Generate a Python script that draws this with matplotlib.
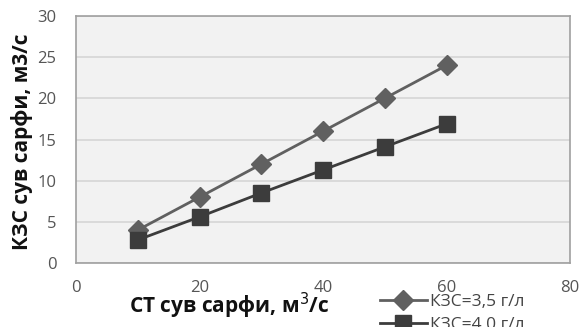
import matplotlib
matplotlib.use("Agg")
import matplotlib.pyplot as plt
import matplotlib.transforms as mtransforms

plt.rcParams['font.family'] = ['Open Sans', 'DejaVu Sans']

x_vals = [10, 20, 30, 40, 50, 60]
s1_vals = [4.0, 8.0, 12.0, 16.0, 20.0, 24.0]
s2_vals = [2.8, 5.6, 8.5, 11.3, 14.1, 16.9]
s1_name = "КЗС=3,5 г/л"
s2_name = "КЗС=4,0 г/л"
x_ticks = [0, 20, 40, 60, 80]
y_ticks = [0, 5, 10, 15, 20, 25, 30]
x_label = "СТ сув сарфи, м$^3$/с"
y_label = "КЗС сув сарфи, м3/с"

W, H = 580, 327
fig = plt.figure(figsize=(W / 100, H / 100), dpi=100)
fig.patch.set_facecolor('white')
# plot box in pixels: left 76, right 570, top 16, bottom 263
ax = fig.add_axes([76 / W, 1 - 263 / H, (570 - 76) / W, (263 - 16) / H])
ax.set_facecolor('#f2f2f2')
ax.set_xlim(0, 80)
ax.set_ylim(0, 30)
ax.set_yticks(y_ticks)
ax.set_yticklabels([str(v) for v in y_ticks], fontsize=12, color='#555555')
ax.tick_params(axis='y', length=0, pad=14)
ax.set_xticks([])
ax.grid(axis='y', color='#d6d6d6', linewidth=1.2)
ax.set_axisbelow(True)
for sp in ax.spines.values():
    sp.set_color('#a0a0a0')
    sp.set_linewidth(1.2)

trans = mtransforms.blended_transform_factory(ax.transData, ax.transAxes)
for t in x_ticks:
    ax.text(t, -0.1, str(t), transform=trans, ha='center', va='center',
            fontsize=12, color='#555555', clip_on=False)

l1, = ax.plot(x_vals, s1_vals, color='#606060', linewidth=2.0, marker='D',
              markersize=10, markerfacecolor='#606060', markeredgecolor='#606060',
              clip_on=False, zorder=3)
l2, = ax.plot(x_vals, s2_vals, color='#3c3c3c', linewidth=2.0, marker='s',
              markersize=12, markerfacecolor='#3c3c3c', markeredgecolor='#3c3c3c',
              clip_on=False, zorder=3)

fig.text(22 / W, 1 - 142 / H, y_label, rotation=90, ha='center', va='center',
         fontsize=15, fontweight='bold', color='#111111')
fig.text(229 / W, 1 - 306 / H, x_label, ha='center', va='center',
         fontsize=15, fontweight='bold', color='#111111')

leg = fig.legend([l1, l2], [s1_name, s2_name], loc='upper left',
                 bbox_to_anchor=(380 / W, 1 - 294 / H), frameon=False,
                 fontsize=12.5, handlelength=2.7, labelspacing=0.4,
                 borderaxespad=0, borderpad=0, handletextpad=0.2)
for txt in leg.get_texts():
    txt.set_color('#444444')

fig.savefig('out.png', dpi=100, facecolor='white')
